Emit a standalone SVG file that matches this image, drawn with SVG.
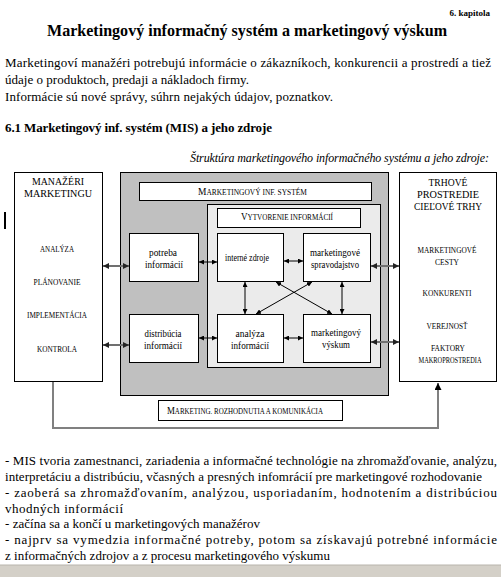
<svg xmlns="http://www.w3.org/2000/svg" width="501" height="577" viewBox="0 0 501 577" font-family="'Liberation Serif', 'DejaVu Serif', serif">
<style>
text{fill:#000}
.b{font-weight:bold}
.p{font-size:13px}
.sc{font-size:7.5px}
.bx{font-size:10px}
.box{fill:#fff;stroke:#000;stroke-width:1}
.thin{stroke:#000;stroke-width:1;fill:none;marker-start:url(#ah);marker-end:url(#ah)}
.thick{stroke:#707070;stroke-width:2;fill:none;marker-start:url(#ah2);marker-end:url(#ah2)}
</style>
<defs>
<marker id="ah" viewBox="0 0 6 6" refX="6" refY="3" markerWidth="5" markerHeight="5" markerUnits="userSpaceOnUse" orient="auto-start-reverse"><path d="M0,0 L6,3 L0,6 z" fill="#000"/></marker>
<marker id="ah2" viewBox="0 0 6 6" refX="6" refY="3" markerWidth="6" markerHeight="6" markerUnits="userSpaceOnUse" orient="auto-start-reverse"><path d="M0,0 L6,3 L0,6 z" fill="#222"/></marker>
<marker id="ah3" viewBox="0 0 6 6" refX="6" refY="3" markerWidth="7" markerHeight="7" markerUnits="userSpaceOnUse" orient="auto"><path d="M0,0 L6,3 L0,6 z" fill="#000"/></marker>
</defs>
<rect width="501" height="577" fill="#fff"/>

<g id="header">
<text x="490" y="16" text-anchor="end" class="b" font-size="9">6. kapitola</text>
<text x="247" y="36" text-anchor="middle" class="b" font-size="16" textLength="400" lengthAdjust="spacingAndGlyphs">Marketingový informačný systém a marketingový výskum</text>
<text x="5" y="67" class="p" textLength="486" lengthAdjust="spacing">Marketingoví manažéri potrebujú informácie  o zákazníkoch, konkurencii a prostredí a tiež</text>
<text x="5" y="84" class="p" textLength="244" lengthAdjust="spacing">údaje o produktoch, predaji a nákladoch firmy.</text>
<text x="5" y="101" class="p" textLength="328" lengthAdjust="spacing">Informácie sú nové správy, súhrn nejakých údajov, poznatkov.</text>
<text x="5" y="132" class="p b" textLength="267" lengthAdjust="spacing">6.1  Marketingový inf. systém (MIS) a jeho zdroje</text>
<text x="489" y="162" text-anchor="end" font-size="12" font-style="italic" textLength="299" lengthAdjust="spacing">Štruktúra marketingového informačného systému a jeho zdroje:</text>
<rect x="4" y="212" width="2" height="17" fill="#000"/>
</g>

<g id="mis-system">
<rect x="120.5" y="172.5" width="268" height="223" fill="#c0c0c0" stroke="#000"/>
<rect x="139.5" y="182.5" width="232" height="18" class="box"/>
<text x="198" y="195" class="sc" textLength="109" lengthAdjust="spacingAndGlyphs"><tspan font-size="9.5">M</tspan>ARKETINGOVÝ INF. SYSTÉM</text>
</g>

<g id="vytvorenie">
<rect x="207.5" y="204.5" width="173" height="163" fill="#ebebeb" stroke="#000"/>
<rect x="217.5" y="208.5" width="143" height="19" class="box"/>
<text x="241" y="220" class="sc" textLength="92" lengthAdjust="spacingAndGlyphs"><tspan font-size="9.5">V</tspan>YTVORENIE INFORMÁCIÍ</text>
</g>

<g id="manazeri">
<rect x="14.5" y="172.5" width="88" height="209" class="box"/>
<text x="58" y="185" text-anchor="middle" class="bx" textLength="52" lengthAdjust="spacingAndGlyphs">MANAŽÉRI</text>
<text x="58" y="197" text-anchor="middle" class="bx" textLength="68" lengthAdjust="spacingAndGlyphs">MARKETINGU</text>
<text x="57" y="252" text-anchor="middle" class="sc" textLength="34" lengthAdjust="spacingAndGlyphs">ANALÝZA</text>
<text x="57" y="285" text-anchor="middle" class="sc" textLength="47" lengthAdjust="spacingAndGlyphs">PLÁNOVANIE</text>
<text x="57" y="318" text-anchor="middle" class="sc" textLength="60" lengthAdjust="spacingAndGlyphs">IMPLEMENTÁCIA</text>
<text x="57" y="352" text-anchor="middle" class="sc" textLength="40" lengthAdjust="spacingAndGlyphs">KONTROLA</text>
</g>

<g id="trhove-prostredie">
<rect x="399.5" y="172.5" width="97" height="209" class="box"/>
<text x="448" y="186" text-anchor="middle" class="bx" textLength="39" lengthAdjust="spacingAndGlyphs">TRHOVÉ</text>
<text x="448" y="198" text-anchor="middle" class="bx" textLength="62" lengthAdjust="spacingAndGlyphs">PROSTREDIE</text>
<text x="448" y="210" text-anchor="middle" class="bx" textLength="68" lengthAdjust="spacingAndGlyphs">CIEĽOVÉ TRHY</text>
<text x="447" y="253" text-anchor="middle" class="sc" textLength="59" lengthAdjust="spacingAndGlyphs">MARKETINGOVÉ</text>
<text x="447" y="265" text-anchor="middle" class="sc" textLength="24" lengthAdjust="spacingAndGlyphs">CESTY</text>
<text x="447" y="296" text-anchor="middle" class="sc" textLength="49" lengthAdjust="spacingAndGlyphs">KONKURENTI</text>
<text x="447" y="329" text-anchor="middle" class="sc" textLength="41" lengthAdjust="spacingAndGlyphs">VEREJNOSŤ</text>
<text x="448" y="351" text-anchor="middle" class="sc" textLength="34" lengthAdjust="spacingAndGlyphs">FAKTORY</text>
<text x="450" y="363" text-anchor="middle" class="sc" textLength="63" lengthAdjust="spacingAndGlyphs">MAKROPROSTREDIA</text>
</g>

<g id="potreba">
<rect x="129.5" y="233.5" width="69" height="48" class="box"/>
<text x="163" y="256" text-anchor="middle" class="bx" textLength="28" lengthAdjust="spacingAndGlyphs">potreba</text>
<text x="164" y="268" text-anchor="middle" class="bx" textLength="38" lengthAdjust="spacingAndGlyphs">informácií</text>
</g>
<g id="interne-zdroje">
<rect x="217.5" y="233.5" width="66" height="48" class="box"/>
<text x="247" y="261" text-anchor="middle" class="bx" textLength="44" lengthAdjust="spacingAndGlyphs">interné zdroje</text>
</g>
<g id="spravodajstvo">
<rect x="303.5" y="233.5" width="67" height="48" class="box"/>
<text x="335" y="256" text-anchor="middle" class="bx" textLength="50" lengthAdjust="spacingAndGlyphs">marketingové</text>
<text x="335" y="268" text-anchor="middle" class="bx" textLength="48" lengthAdjust="spacingAndGlyphs">spravodajstvo</text>
</g>
<g id="distribucia">
<rect x="129.5" y="314.5" width="69" height="48" class="box"/>
<text x="163" y="337" text-anchor="middle" class="bx" textLength="37" lengthAdjust="spacingAndGlyphs">distribúcia</text>
<text x="163" y="349" text-anchor="middle" class="bx" textLength="38" lengthAdjust="spacingAndGlyphs">informácií</text>
</g>
<g id="analyza">
<rect x="217.5" y="314.5" width="66" height="48" class="box"/>
<text x="250" y="337" text-anchor="middle" class="bx" textLength="29" lengthAdjust="spacingAndGlyphs">analýza</text>
<text x="250" y="349" text-anchor="middle" class="bx" textLength="38" lengthAdjust="spacingAndGlyphs">informácií</text>
</g>
<g id="vyskum">
<rect x="303.5" y="314.5" width="67" height="48" class="box"/>
<text x="336" y="336" text-anchor="middle" class="bx" textLength="50" lengthAdjust="spacingAndGlyphs">marketingový</text>
<text x="336" y="348" text-anchor="middle" class="bx" textLength="28" lengthAdjust="spacingAndGlyphs">výskum</text>
</g>

<g id="rozhodnutia">
<rect x="158.5" y="400.5" width="184" height="20" class="box"/>
<text x="167" y="414" class="sc" textLength="156" lengthAdjust="spacingAndGlyphs"><tspan font-size="9.5">M</tspan>ARKETING. ROZHODNUTIA A KOMUNIKÁCIA</text>
</g>

<g id="connectors">
<line x1="103" y1="266" x2="129" y2="266" class="thick"/>
<line x1="103" y1="345" x2="129" y2="345" class="thick"/>
<line x1="371" y1="266" x2="399" y2="266" class="thick"/>
<line x1="371" y1="342" x2="399" y2="342" class="thick"/>
<line x1="199" y1="262" x2="217" y2="262" class="thin"/>
<line x1="199" y1="338" x2="217" y2="338" class="thin"/>
<line x1="284" y1="261" x2="303" y2="261" class="thin"/>
<line x1="284" y1="338" x2="303" y2="338" class="thin"/>
<line x1="245" y1="282" x2="245" y2="314" class="thin"/>
<line x1="342" y1="282" x2="342" y2="314" class="thin"/>
<line x1="276" y1="282" x2="332" y2="314" class="thin"/>
<line x1="312" y1="282" x2="256" y2="314" class="thin"/>
<polyline points="53,382 53,428 438,428 438,383" fill="none" stroke="#808080" stroke-width="2" marker-end="url(#ah3)"/>
</g>

<g id="notes">
<text x="5" y="465" class="p" textLength="492" lengthAdjust="spacing">- MIS tvoria zamestnanci, zariadenia a informačné technológie na zhromažďovanie, analýzu,</text>
<text x="5" y="481" class="p" textLength="477" lengthAdjust="spacing">interpretáciu a distribúciu, včasných a presných infomrácií pre marketingové rozhodovanie</text>
<text x="5" y="497" class="p" textLength="492" lengthAdjust="spacing">-  zaoberá  sa  zhromažďovaním,  analýzou,  usporiadaním,  hodnotením  a distribúciou</text>
<text x="5" y="513" class="p" textLength="118" lengthAdjust="spacing">vhodných informácií</text>
<text x="5" y="528" class="p" textLength="255" lengthAdjust="spacing">- začína sa a končí u marketingových manažérov</text>
<text x="5" y="544" class="p" textLength="492" lengthAdjust="spacing">-  najprv  sa  vymedzia  informačné  potreby,  potom  sa  získavajú  potrebné  informácie</text>
<text x="5" y="560" class="p" textLength="325" lengthAdjust="spacing">z informačných zdrojov a z procesu marketingového výskumu</text>
</g>
<rect x="0" y="565" width="501" height="12" fill="#d4d0c8"/>
<line x1="0" y1="565" x2="501" y2="565" stroke="#b8b4ac" stroke-width="1"/>
</svg>
